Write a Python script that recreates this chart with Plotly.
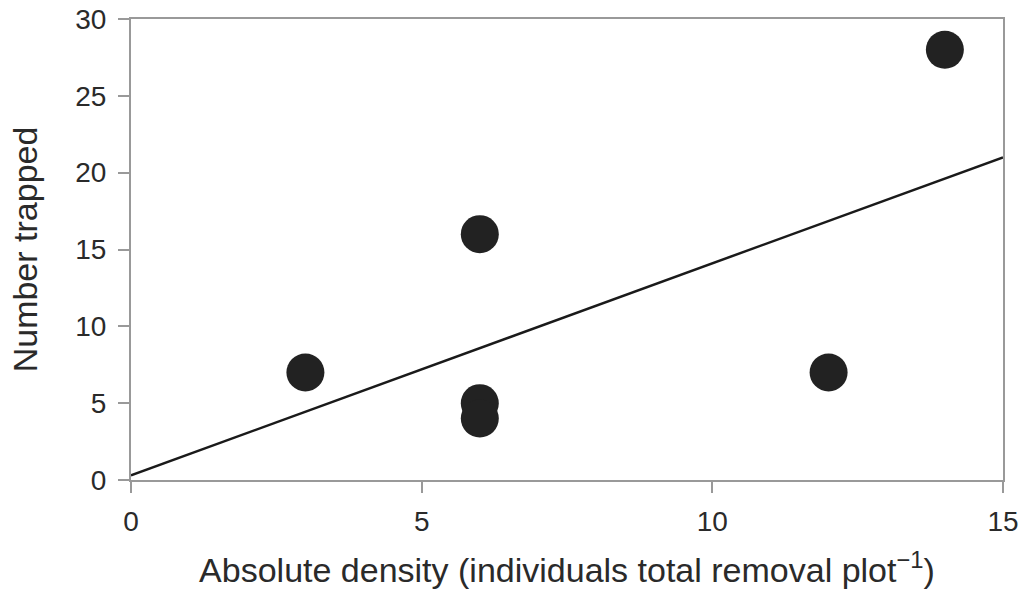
import plotly.graph_objects as go

# Observed points
density = [3, 6, 6, 6, 12, 14]
trapped = [7, 16, 5, 4, 7, 28]

# Fitted regression line endpoints
fit_x = [0, 15]
fit_y = [0.3, 21.0]

x_ticks = [0, 5, 10, 15]
y_ticks = [0, 5, 10, 15, 20, 25, 30]

fig = go.Figure()
fig.add_trace(go.Scatter(x=fit_x, y=fit_y, mode="lines",
                         line=dict(color="#1a1a1a", width=2.5), showlegend=False,
                         cliponaxis=False))
fig.add_trace(go.Scatter(x=density, y=trapped, mode="markers",
                         marker=dict(color="#222222", size=38, line=dict(width=0)),
                         showlegend=False, cliponaxis=False))

font = "Liberation Sans, Arial, Helvetica, sans-serif"
fig.update_layout(
    width=1024, height=599,
    margin=dict(l=131, r=21, t=19, b=119, autoexpand=False),
    plot_bgcolor="white", paper_bgcolor="white",
    font=dict(family=font, color="#2a2a2a", size=28),
    xaxis=dict(range=[0, 15], tickvals=x_ticks, showgrid=False, zeroline=False,
               automargin=False, ticklabeloverflow="allow",
               showline=True, linecolor="#999999", linewidth=2, mirror=True,
               ticks="outside", ticklen=11, tickwidth=2, tickcolor="#999999",
               tickfont=dict(size=28), ticklabelstandoff=4,
               title=dict(text="Absolute density (individuals total removal plot<sup>−1</sup>)",
                          font=dict(size=34), standoff=23)),
    yaxis=dict(range=[0, 30], tickvals=y_ticks, showgrid=False, zeroline=False,
               automargin=False, ticklabeloverflow="allow",
               showline=True, linecolor="#999999", linewidth=2, mirror=True,
               ticks="outside", ticklen=11, tickwidth=2, tickcolor="#999999",
               tickfont=dict(size=28), ticklabelstandoff=6,
               title=dict(text="Number trapped", font=dict(size=34), standoff=27)),
)
fig.write_html("out.html",
               config={"displayModeBar": False},
               post_script="document.body.style.margin='0';document.body.style.overflow='hidden';")
